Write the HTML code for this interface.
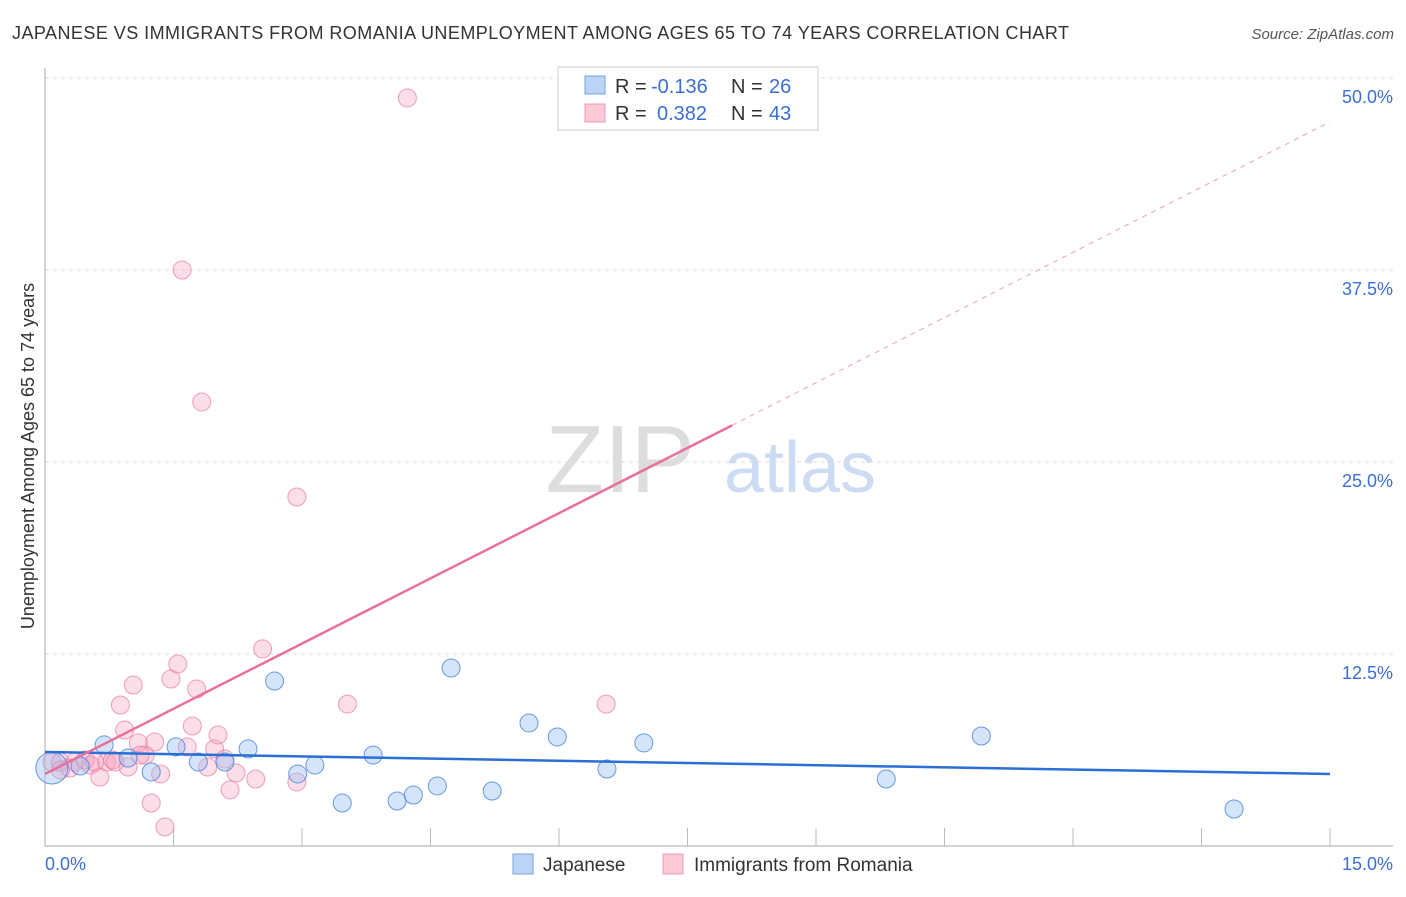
<!DOCTYPE html>
<html><head><meta charset="utf-8"><style>
body{margin:0;background:#fff;font-family:"Liberation Sans",sans-serif}
svg text{font-family:"Liberation Sans",sans-serif}
</style></head><body>
<svg id="c" width="1406" height="892">
<text x="12" y="39" font-size="18" fill="#333" textLength="1057">JAPANESE VS IMMIGRANTS FROM ROMANIA UNEMPLOYMENT AMONG AGES 65 TO 74 YEARS CORRELATION CHART</text>
<text x="1394" y="39" font-size="15" fill="#555" font-style="italic" text-anchor="end">Source: ZipAtlas.com</text>
<text x="620" y="492" font-size="96" fill="#ddd" font-family="Liberation Serif" text-anchor="middle">ZIP</text>
<text x="800" y="492" font-size="72" fill="#cddcf2" text-anchor="middle">atlas</text>
<text transform="translate(34,456) rotate(-90)" font-size="18" fill="#333" text-anchor="middle">Unemployment Among Ages 65 to 74 years</text>
<g id="grid"></g><g id="pts"></g><g id="lines"></g>
<g>
<rect x="558" y="67" width="260" height="63" fill="#fff" stroke="#ccc"/>
<rect x="585" y="76" width="20" height="18" fill="#bcd4f5" stroke="#7aa3e0"/>
<rect x="585" y="104" width="20" height="18" fill="#fbc9d8" stroke="#ee99b3"/>
<text x="615" y="93" font-size="20" fill="#333">R =</text>
<text x="651" y="93" font-size="20" fill="#3b6fd4">-0.136</text>
<text x="731" y="93" font-size="20" fill="#333">N =</text>
<text x="769" y="93" font-size="20" fill="#3b6fd4">26</text>
<text x="615" y="120" font-size="20" fill="#333">R =</text>
<text x="657" y="120" font-size="20" fill="#3b6fd4">0.382</text>
<text x="731" y="120" font-size="20" fill="#333">N =</text>
<text x="769" y="120" font-size="20" fill="#3b6fd4">43</text>
</g>
<g>
<rect x="513" y="854" width="20" height="20" fill="#bcd4f5" stroke="#7aa3e0"/>
<text x="543" y="871" font-size="19" fill="#333">Japanese</text>
<rect x="663" y="854" width="20" height="20" fill="#fbc9d8" stroke="#ee99b3"/>
<text x="694" y="871" font-size="19" fill="#333">Immigrants from Romania</text>
</g>
<text x="45" y="870" font-size="18" fill="#3b6fd4">0.0%</text>
<text x="1393" y="870" font-size="18" fill="#3b6fd4" text-anchor="end">15.0%</text>
</svg>
<script>
const yTicks=[12.5,25,37.5,50];
const yTickLabels=["12.5%","25.0%","37.5%","50.0%"];
const blueX=[0.08,0.69,0.97,1.24,1.53,1.79,2.10,2.37,2.68,2.95,3.15,3.47,3.83,4.11,4.30,4.58,4.74,5.22,5.65,5.98,6.56,6.99,9.82,10.93,13.88,0.41];
const blueY=[5.08,6.58,5.73,4.82,6.45,5.47,5.47,6.32,10.74,4.69,5.27,2.80,5.92,2.93,3.32,3.91,11.59,3.58,8.01,7.10,5.01,6.71,4.36,7.16,2.41,5.21];
const pinkX=[0.08,0.18,0.35,0.53,0.72,0.79,0.64,0.88,0.93,0.97,1.03,1.09,1.17,1.24,1.28,1.35,1.40,1.47,1.55,1.60,1.66,1.72,1.77,1.83,1.90,1.98,2.02,2.10,2.16,2.23,2.46,2.54,2.94,2.94,3.53,4.23,6.55,0.29,0.47,0.58,0.82,1.11,0.18];
const pinkY=[5.47,5.47,5.47,5.27,5.47,5.60,4.49,9.18,7.55,5.14,10.48,6.71,5.92,2.80,6.77,4.69,1.24,10.87,11.85,37.5,6.45,7.81,10.22,28.91,5.14,6.32,7.23,5.66,3.65,4.75,4.36,12.83,4.17,22.72,9.24,48.70,9.24,5.08,5.60,5.47,5.47,5.92,4.95];
const blueTrend=[6.12,4.69];
const pinkTrend=[4.69,47.14];
const pinkSolidEnd=8.02;
const X=v=>45+v/15*1285, Y=v=>846-v/50*768;
const NS="http://www.w3.org/2000/svg";
function mk(t,a,p){const e=document.createElementNS(NS,t);for(const k in a)e.setAttribute(k,a[k]);p.appendChild(e);return e;}
const g=document.getElementById('grid');
yTicks.forEach((t,i)=>{
 const l=mk('line',{x1:45,x2:1393,y1:Y(t),y2:Y(t),stroke:'#ddd','stroke-dasharray':'4,4'},g);
 
 
 const tx=mk('text',{x:1393,y:Y(t)+25,'font-size':18,fill:'#3b6fd4','text-anchor':'end'},g);
 tx.textContent=yTickLabels[i];
 
 
});
const ax1=mk('line',{x1:45,x2:45,y1:68,y2:846,stroke:'#aaa'},g);


const ax2=mk('line',{x1:45,x2:1393,y1:846,y2:846,stroke:'#aaa'},g);


for(let i=1;i<=10;i++){const t=mk('line',{x1:X(i*1.5),x2:X(i*1.5),y1:828,y2:846,stroke:'#bbb'},g);
 
 }
const p=document.getElementById('pts');
pinkX.forEach((x,i)=>{const c=mk('circle',{cx:X(x),cy:Y(pinkY[i]),r:9,fill:'rgba(246,160,190,0.35)',stroke:'rgba(232,120,160,0.7)','stroke-width':1},p);
 
 });
blueX.forEach((x,i)=>{const c=mk('circle',{cx:X(x),cy:Y(blueY[i]),r:i==0?16:9,fill:'rgba(150,190,240,0.4)',stroke:'rgba(70,130,220,0.8)','stroke-width':1},p);
 
 });
const L=document.getElementById('lines');
const b=mk('line',{x1:X(0),y1:Y(blueTrend[0]),x2:X(15),y2:Y(blueTrend[1]),stroke:'#2a6fd6','stroke-width':2.5},L);


const py=v=>pinkTrend[0]+(pinkTrend[1]-pinkTrend[0])*v/15;
const ps=mk('line',{x1:X(0),y1:Y(py(0)),x2:X(pinkSolidEnd),y2:Y(py(pinkSolidEnd)),stroke:'#e8709a','stroke-width':2.5},L);


const pd=mk('line',{x1:X(pinkSolidEnd),y1:Y(py(pinkSolidEnd)),x2:X(15),y2:Y(py(15)),stroke:'#eaa0b8','stroke-width':1,'stroke-dasharray':'5,5'},L);


</script>
</body></html>
